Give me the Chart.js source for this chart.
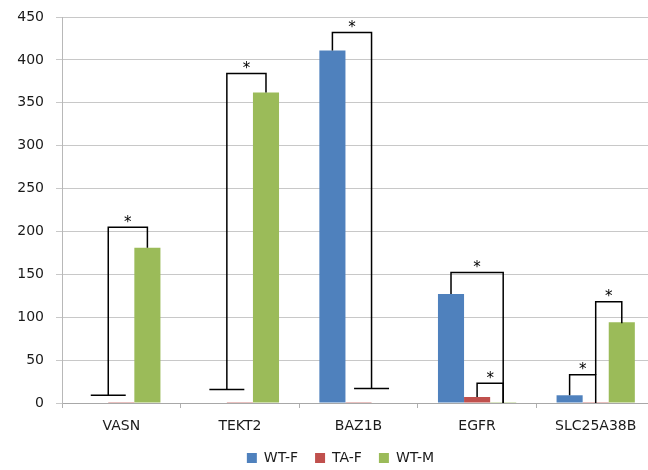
<!DOCTYPE html>
<html>
<head>
<meta charset="utf-8">
<script src="https://cdn.jsdelivr.net/npm/chart.js@4"></script>
<style>
  html, body { margin: 0; padding: 0; background: #fff; overflow: hidden; }
  #wrap { width: 655px; height: 470px; }
</style>
</head>
<body>
<div id="wrap"><canvas id="chart"></canvas></div>
<script>
// categorias y series
const genes = ['VASN', 'TEKT2', 'BAZ1B', 'EGFR', 'SLC25A38B'];
const seriesNames = ['WT-F', 'TA-F', 'WT-M'];
const wtF = [0, 0, 411, 127, 9];
const taF = [1, 1, 1, 7, 1];
const wtM = [181, 362, 0, 1, 94];
const yTicks = [0, 50, 100, 150, 200, 250, 300, 350, 400, 450];

// corchetes de significancia: [gen, barra inicio, valor inicio, barra fin, valor fin, valor arriba]
// (barra 0 = WT-F, 1 = TA-F, 2 = WT-M; 0.5 = entre dos barras)
const brackets = [
  [0, 0.5, 9, 2, 181, 205],
  [1, 0.5, 15.6, 2, 362, 384],
  [2, 0, 411, 1.5, 17, 432],
  [3, 0, 127, 2, 0, 152],
  [3, 1, 7, 2, 0, 23],
  [4, 0, 9, 1, 0, 33],
  [4, 1, 33, 2, 93, 118]
];
// barras horizontales sueltas: [gen, barra, valor]
const caps = [
  [0, 0.5, 9],
  [1, 0.5, 15.6],
  [2, 1.5, 17]
];

const colors = ['#4F81BD', '#C0504D', '#9BBB59'];
const fontFamily = '"DejaVu Sans", Verdana, sans-serif';

// Plugin para dibujar los corchetes y asteriscos
const bracketPlugin = {
  id: 'brackets',
  afterLayout(chart) {
    // mover la leyenda como en el original (un poco a la derecha y abajo)
    const lg = chart.legend;
    lg.left += 13; lg.right += 13;
    const dy = 434 - lg.top;
    lg.top += dy; lg.bottom += dy;
    // que las etiquetas del eje x no se corten
    chart.scales.x.bottom += 20;
  },
  afterDatasetsDraw(chart) {
    const ctx = chart.ctx;
    const y = chart.scales.y;
    const meta = chart.getDatasetMeta(0);
    const xAt = (cat, pos) => {
      const bar = meta.data[cat];
      return bar.x + pos * bar.width;
    };
    ctx.save();
    ctx.strokeStyle = '#000';
    ctx.lineWidth = 1.5;
    brackets.forEach(b => {
      const x1 = xAt(b[0], b[1]);
      const x2 = xAt(b[0], b[3]);
      const yTop = y.getPixelForValue(b[5]);
      ctx.beginPath();
      ctx.moveTo(x1, y.getPixelForValue(b[2]));
      ctx.lineTo(x1, yTop);
      ctx.lineTo(x2, yTop);
      ctx.lineTo(x2, y.getPixelForValue(b[4]));
      ctx.stroke();
      ctx.fillStyle = '#000';
      ctx.font = '15px ' + fontFamily;
      ctx.textAlign = 'center';
      ctx.textBaseline = 'alphabetic';
      ctx.fillText('*', (x1 + x2) / 2, yTop - 0.5);
    });
    caps.forEach(c => {
      const xc = xAt(c[0], c[1]);
      const half = meta.data[c[0]].width * 0.67;
      const yc = y.getPixelForValue(c[2]);
      ctx.beginPath();
      ctx.moveTo(xc - half, yc);
      ctx.lineTo(xc + half, yc);
      ctx.stroke();
    });
    ctx.restore();
  }
};

const ctx = document.getElementById('chart').getContext('2d');
const chart = new Chart(ctx, {
  type: 'bar',
  data: {
    labels: genes,
    datasets: [
      { label: seriesNames[0], data: wtF, backgroundColor: colors[0] },
      { label: seriesNames[1], data: taF, backgroundColor: colors[1] },
      { label: seriesNames[2], data: wtM, backgroundColor: colors[2] }
    ]
  },
  options: {
    responsive: true,
    maintainAspectRatio: false,
    animation: false,
    layout: { padding: { left: 0, right: 0, top: 17, bottom: 0 } },
    datasets: {
      bar: { categoryPercentage: 0.66, barPercentage: 1.0 }
    },
    scales: {
      x: {
        grid: { drawOnChartArea: false, drawTicks: true, tickLength: 5, color: '#b0b0b0' },
        border: { color: '#a8a8a8' },
        ticks: { color: '#1a1a1a', font: { family: fontFamily, size: 14 }, padding: 10 },
        afterFit(scale) { scale.height = 26; }
      },
      y: {
        min: 0,
        max: 450,
        afterBuildTicks(scale) { scale.ticks = yTicks.map(v => ({ value: v })); },
        grid: { color: '#c8c8c8', tickLength: 6 },
        border: { color: '#b8b8b8' },
        ticks: { color: '#1a1a1a', font: { family: fontFamily, size: 14 }, padding: 12 },
        afterFit(scale) {
          scale.width = 62;
          scale.paddingTop = 0;
          scale.paddingBottom = 0;
        }
      }
    },
    plugins: {
      legend: {
        position: 'bottom',
        labels: {
          boxWidth: 10,
          boxHeight: 10,
          padding: 17,
          color: '#1a1a1a',
          font: { family: fontFamily, size: 14 }
        }
      },
      tooltip: { enabled: false }
    }
  },
  plugins: [bracketPlugin]
});
</script>
</body>
</html>
